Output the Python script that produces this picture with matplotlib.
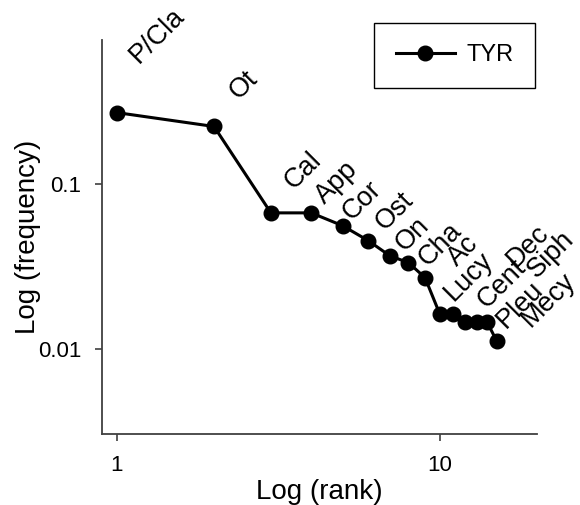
import matplotlib
matplotlib.use("Agg")
import matplotlib.pyplot as plt
from matplotlib.ticker import FixedLocator, NullLocator, FixedFormatter

plt.rcParams["font.family"] = ["Liberation Sans", "DejaVu Sans"]

# rank-frequency data (TYR)
ranks = [1, 2, 3, 4, 5, 6, 7, 8, 9, 10, 11, 12, 13, 14, 15]
freqs = [0.272, 0.224, 0.067, 0.067, 0.056, 0.0455, 0.0368, 0.0334, 0.0271,
         0.0163, 0.0163, 0.0146, 0.0146, 0.0146, 0.0112]
names = ["P/Cla", "Ot", "Cal", "App", "Cor", "Ost", "On", "Cha", "Ac",
         "Lucy", "Cent", "Dec", "Siph", "Pleu", "Mecy"]

# label offsets from each point (pixels)
offsets = [(22, 49), (25, 26), (23, 23), (13, 8), (9, 5), (17, 10), (15, 4),
           (19, -4), (32, 11), (14, 12), (33, 5), (50, 54), (60, 43),
           (19, -7), (34, 13)]

fig = plt.figure(figsize=(5.8, 5.05), dpi=100)
ax = fig.add_axes([0.1759, 0.1406, 0.75, 0.7802])

ax.plot(ranks, freqs, color="black", lw=2.2, marker="o", ms=10.5, label="TYR")

for r, f, name, (dx, dy) in zip(ranks, freqs, names, offsets):
    ax.annotate(name, xy=(r, f), xytext=(dx, dy), textcoords="offset pixels",
                rotation=45, rotation_mode="anchor", ha="left", va="baseline",
                fontsize=19.5)

ax.set_xscale("log")
ax.set_yscale("log")
ax.set_xlim(0.9, 20)
ax.set_ylim(0.00305, 0.75)

ax.xaxis.set_major_locator(FixedLocator([1, 10]))
ax.xaxis.set_major_formatter(FixedFormatter(["1", "10"]))
ax.yaxis.set_major_locator(FixedLocator([0.01, 0.1]))
ax.yaxis.set_major_formatter(FixedFormatter(["0.01", "0.1"]))
ax.xaxis.set_minor_locator(NullLocator())
ax.yaxis.set_minor_locator(NullLocator())

for side in ["top", "right"]:
    ax.spines[side].set_visible(False)
for side in ["left", "bottom"]:
    ax.spines[side].set_color("#404040")
    ax.spines[side].set_linewidth(1.3)

ax.tick_params(direction="out", length=5, width=1.2, color="#404040",
               labelsize=16, pad=10)

ax.set_xlabel("Log (rank)", fontsize=20, labelpad=2)
ax.set_ylabel("Log (frequency)", fontsize=20, labelpad=-2)

leg = ax.legend(loc="upper right", bbox_to_anchor=(0.922, 0.954),
                bbox_transform=fig.transFigure, fancybox=False,
                edgecolor="black", fontsize=17, handlelength=2.5,
                handletextpad=0.5, borderpad=0.9, borderaxespad=0,
                framealpha=1)
leg.get_frame().set_linewidth(1.0)

fig.savefig("out.png", dpi=100)
